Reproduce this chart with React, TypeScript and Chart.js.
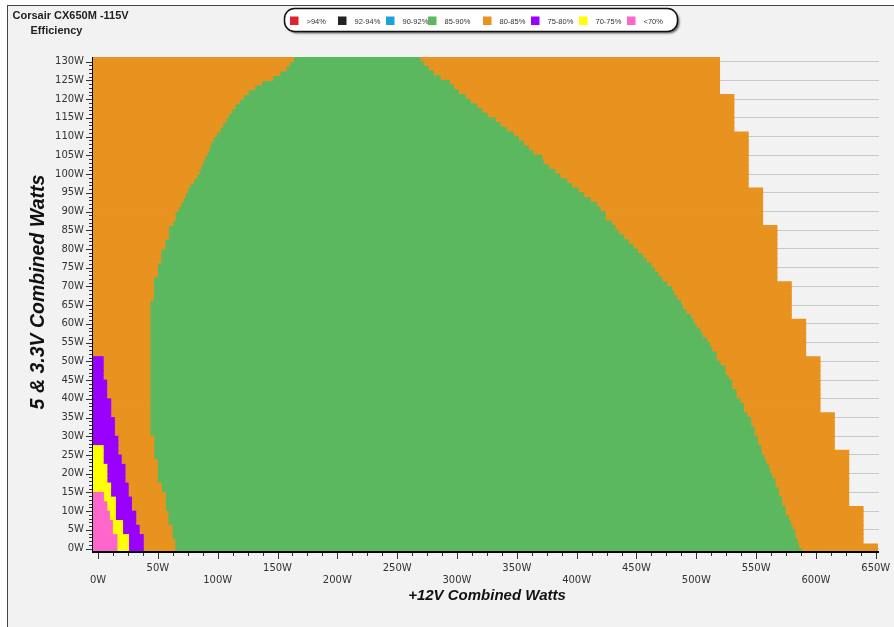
import React, { useEffect, useRef } from 'react';
import { Chart, registerables } from 'chart.js';

Chart.register(...registerables);

const TITLE_LINES = ['Corsair CX650M -115V', 'Efficiency'];
const X_TITLE = '+12V Combined Watts';
const Y_TITLE = '5 & 3.3V Combined Watts';

const LEGEND_LABELS = ['>94%', '92-94%', '90-92%', '85-90%', '80-85%', '75-80%', '70-75%', '<70%'];
const LEGEND_COLORS = ['#dc2430', '#222222', '#1ca3d9', '#5bb85f', '#e8921f', '#9900ff', '#ffff00', '#ff66cc'];

const COLOR_GREEN = '#5bb85f';
const COLOR_ORANGE = '#e8921f';
const COLOR_PURPLE = '#9900ff';
const COLOR_YELLOW = '#ffff00';
const COLOR_PINK = '#ff66cc';

const X_TICKS = [0, 50, 100, 150, 200, 250, 300, 350, 400, 450, 500, 550, 600, 650];
const Y_TICKS = [0, 5, 10, 15, 20, 25, 30, 35, 40, 45, 50, 55, 60, 65, 70, 75, 80, 85, 90, 95, 100, 105, 110, 115, 120, 125, 130];

const X_MIN = -4.2;
const X_MAX = 652.7;
const Y_MIN = -0.9;
const Y_MAX = 131.25;

// rows of 1.25 W of 5V+3.3V load
const ROW_HEIGHT = 1.25;
const ROW_COUNT = 106;
const ROW_CENTERS = Array.from({ length: ROW_COUNT }, (_, i) => (i - 0.5) * ROW_HEIGHT);

// +12V watts where the <70% band ends (rows from the bottom)
const PINK_END = [15.8, 15.8, 15.8, 15.8, 12.0, 12.0, 12.0, 9.5, 9.5, 7.3, 7.3, 4.5, 4.5];
// where the 70-75% band ends
const YELLOW_END = [25.5, 25.5, 25.5, 25.5, 20.5, 20.5, 20.5, 14.5, 14.5, 14.5,
  14.5, 14.5, 10.5, 10.5, 10.5, 7.4, 7.4, 7.4, 7.4, 4.3, 4.3, 4.3, 4.3];
// where the 75-80% band ends
const PURPLE_END = [37.8, 37.8, 37.8, 37.8, 34.4, 34.4, 31.5, 31.5, 31.5, 28.0,
  28.0, 28.0, 25.2, 25.2, 25.2, 22.5, 22.5, 22.5, 22.5, 19.4,
  19.4, 16.6, 16.6, 16.6, 16.6, 13.7, 13.7, 13.7, 13.7, 10.6,
  10.6, 10.6, 10.6, 7.2, 7.2, 7.2, 7.2, 4.3, 4.3, 4.3,
  4.3, 4.3];
// where the 85-90% band starts
const GREEN_START = [64.1, 64.1, 64.1, 61.8, 61.8, 61.8, 58.5, 58.5, 58.5, 56.2,
  56.2, 56.2, 56.2, 52.9, 52.9, 49.6, 49.6, 49.6, 49.6, 49.6,
  46.6, 46.6, 46.6, 46.6, 46.6, 43.4, 43.4, 43.4, 43.4, 43.4,
  43.4, 43.4, 43.4, 43.4, 43.4, 43.4, 43.4, 43.4, 43.4, 43.4,
  43.4, 43.4, 43.4, 43.4, 43.4, 43.4, 43.4, 43.4, 43.4, 43.4,
  43.4, 43.4, 43.4, 43.4, 46.2, 46.2, 46.2, 46.2, 46.2, 49.6,
  49.6, 49.6, 52.4, 52.4, 52.4, 56.0, 56.0, 58.8, 58.8, 58.8,
  62.4, 64.4, 64.4, 67.1, 69.1, 71.3, 73.0, 74.6, 76.9, 79.7,
  82.5, 84.7, 86.0, 87.5, 89.4, 91.4, 93.0, 94.2, 96.4, 99.2,
  102.0, 104.2, 107.0, 108.9, 111.7, 114.5, 118.1, 121.4, 125.6, 131.0,
  136.8, 146.0, 152.0, 157.0, 160.0, 163.3];
// where the 85-90% band ends
const GREEN_END = [588.0, 585.5, 584.5, 582.5, 582.5, 580.0, 578.5, 577.0, 574.2, 574.2,
  571.4, 571.4, 568.6, 568.6, 565.8, 565.8, 563.1, 561.5, 560.2, 558.0,
  556.6, 554.1, 554.1, 551.1, 551.1, 548.3, 548.3, 545.5, 545.5, 542.2,
  539.3, 539.3, 536.6, 533.2, 533.2, 529.6, 529.6, 526.8, 524.0, 524.0,
  519.8, 516.5, 516.5, 512.9, 511.0, 508.7, 505.0, 503.1, 499.8, 497.5,
  495.4, 491.4, 488.5, 487.0, 483.7, 481.0, 479.5, 475.3, 471.1, 468.0,
  465.0, 462.0, 458.0, 455.0, 451.0, 447.0, 443.0, 439.0, 435.0, 432.0,
  429.3, 423.7, 423.7, 419.6, 416.8, 411.2, 405.6, 401.4, 395.9, 391.7,
  386.1, 382.0, 376.4, 372.0, 370.8, 363.8, 359.6, 355.5, 351.3, 347.1,
  341.6, 336.0, 331.8, 325.4, 320.7, 316.5, 311.0, 306.8, 301.2, 297.0,
  293.6, 286.0, 280.3, 276.1, 272.0, 269.1];
// highest +12V load measured in each row
const MAX_LOAD = [651.4, 651.4, 639.4, 639.4, 639.4, 639.4, 639.4, 639.4, 639.4, 639.4,
  627.4, 627.4, 627.4, 627.4, 627.4, 627.4, 627.4, 627.4, 627.4, 627.4,
  627.4, 627.4, 615.4, 615.4, 615.4, 615.4, 615.4, 615.4, 615.4, 615.4,
  603.4, 603.4, 603.4, 603.4, 603.4, 603.4, 603.4, 603.4, 603.4, 603.4,
  603.4, 603.4, 591.4, 591.4, 591.4, 591.4, 591.4, 591.4, 591.4, 591.4,
  579.4, 579.4, 579.4, 579.4, 579.4, 579.4, 579.4, 579.4, 567.4, 567.4,
  567.4, 567.4, 567.4, 567.4, 567.4, 567.4, 567.4, 567.4, 567.4, 567.4,
  555.4, 555.4, 555.4, 555.4, 555.4, 555.4, 555.4, 555.4, 543.4, 543.4,
  543.4, 543.4, 543.4, 543.4, 543.4, 543.4, 543.4, 543.4, 543.4, 543.4,
  531.4, 531.4, 531.4, 531.4, 531.4, 531.4, 531.4, 531.4, 519.4, 519.4,
  519.4, 519.4, 519.4, 519.4, 519.4, 519.4];

type Seg = { x: [number, number]; y: number };

function buildSegments(fn: (i: number) => [number, number] | null): Seg[] {
  const out: Seg[] = [];
  ROW_CENTERS.forEach((y, i) => {
    const s = fn(i);
    if (s && s[1] > s[0]) out.push({ x: s, y });
  });
  return out;
}

const pinkSegs = buildSegments(i => (PINK_END[i] != null ? [X_MIN, PINK_END[i]] : null));
const yellowSegs = buildSegments(i => (YELLOW_END[i] != null ? [PINK_END[i] ?? X_MIN, YELLOW_END[i]] : null));
const purpleSegs = buildSegments(i =>
  PURPLE_END[i] != null ? [YELLOW_END[i] ?? PINK_END[i] ?? X_MIN, PURPLE_END[i]] : null
);
const orangeLowSegs = buildSegments(i => [PURPLE_END[i] ?? YELLOW_END[i] ?? PINK_END[i] ?? X_MIN, GREEN_START[i]]);
const greenSegs = buildSegments(i => [GREEN_START[i], GREEN_END[i]]);
const orangeHighSegs = buildSegments(i => [GREEN_END[i], MAX_LOAD[i]]);

const LEGEND_SLOT_X = [290, 338, 386, 428, 483, 531, 579, 627];

const decorPlugin = {
  id: 'decor',
  afterDraw(chart: any) {
    const { ctx, chartArea: ca, scales } = chart;
    const xs = scales.x;
    const ys = scales.y;
    ctx.save();

    // axis lines
    ctx.strokeStyle = '#000';
    ctx.lineWidth = 1;
    ctx.beginPath();
    ctx.moveTo(ca.left - 0.5, ca.top);
    ctx.lineTo(ca.left - 0.5, ca.bottom + 1);
    ctx.stroke();
    ctx.lineWidth = 2;
    ctx.beginPath();
    ctx.moveTo(ca.left - 1, ca.bottom);
    ctx.lineTo(ca.right, ca.bottom);
    ctx.stroke();

    // x ticks (every 12.5 W)
    ctx.lineWidth = 1;
    ctx.strokeStyle = '#333';
    for (let k = 0; k <= 52; k++) {
      const v = k * 12.5;
      const px = Math.round(xs.getPixelForValue(v)) + 0.5;
      const len = k % 4 === 0 ? 6 : 3;
      ctx.beginPath();
      ctx.moveTo(px, ca.bottom + 1);
      ctx.lineTo(px, ca.bottom + 1 + len);
      ctx.stroke();
    }
    // y ticks (every 1 W)
    for (let v = 0; v <= 130; v++) {
      const py = Math.round(ys.getPixelForValue(v)) + 0.5;
      const len = v % 5 === 0 ? 6 : 3;
      ctx.beginPath();
      ctx.moveTo(ca.left - 1 - len, py);
      ctx.lineTo(ca.left - 1, py);
      ctx.stroke();
    }

    // title
    ctx.fillStyle = '#222';
    ctx.textAlign = 'left';
    ctx.textBaseline = 'alphabetic';
    ctx.font = 'bold 11px "Liberation Sans", Arial, sans-serif';
    ctx.fillText(TITLE_LINES[0], 12.5, 18.5);
    ctx.fillText(TITLE_LINES[1], 30.5, 33.5);

    // axis titles
    ctx.fillStyle = '#111';
    ctx.font = 'bold italic 15px "Liberation Sans", Arial, sans-serif';
    ctx.textAlign = 'center';
    ctx.fillText(X_TITLE, 487, 600);
    ctx.save();
    ctx.translate(43.5, 292);
    ctx.rotate(-Math.PI / 2);
    ctx.font = 'bold italic 19.5px "Liberation Sans", Arial, sans-serif';
    ctx.fillText(Y_TITLE, 0, 0);
    ctx.restore();

    // legend box
    ctx.save();
    ctx.shadowColor = 'rgba(0,0,0,0.55)';
    ctx.shadowOffsetX = 2;
    ctx.shadowOffsetY = 2;
    ctx.shadowBlur = 2;
    ctx.beginPath();
    (ctx as any).roundRect(284.5, 8.5, 393, 23, 10);
    ctx.fillStyle = '#ffffff';
    ctx.fill();
    ctx.restore();
    ctx.beginPath();
    (ctx as any).roundRect(284.5, 8.5, 393, 23, 10);
    ctx.lineWidth = 1.5;
    ctx.strokeStyle = '#111';
    ctx.stroke();

    ctx.font = '7.5px "Liberation Sans", Arial, sans-serif';
    ctx.textAlign = 'left';
    LEGEND_LABELS.forEach((label, i) => {
      const x = LEGEND_SLOT_X[i];
      ctx.fillStyle = LEGEND_COLORS[i];
      ctx.fillRect(x, 16.5, 8.5, 8.5);
      ctx.fillStyle = '#333';
      ctx.fillText(label, x + 16.5, 23.8);
    });

    ctx.restore();
  },
};

export default function App() {
  const ref = useRef<HTMLCanvasElement | null>(null);

  useEffect(() => {
    if (!ref.current) return;
    const mk = (label: string, data: Seg[], color: string) => ({
      label,
      data,
      backgroundColor: color,
      borderWidth: 0,
      grouped: false,
      barPercentage: 1,
      categoryPercentage: 1,
      inflateAmount: 0.5,
    });
    const chart = new Chart(ref.current, {
      type: 'bar',
      data: {
        datasets: [
          mk('<70%', pinkSegs, COLOR_PINK),
          mk('70-75%', yellowSegs, COLOR_YELLOW),
          mk('75-80%', purpleSegs, COLOR_PURPLE),
          mk('80-85%', orangeLowSegs, COLOR_ORANGE),
          mk('85-90%', greenSegs, COLOR_GREEN),
          mk('80-85% ', orangeHighSegs, COLOR_ORANGE),
        ] as any,
      },
      options: {
        indexAxis: 'y',
        responsive: false,
        animation: false,
        devicePixelRatio: 1,
        events: [],
        layout: { padding: { left: 0, right: 15, top: 57, bottom: 0 } },
        plugins: {
          legend: { display: false },
          tooltip: { enabled: false },
          title: { display: false },
        },
        scales: {
          x: {
            type: 'linear',
            min: X_MIN,
            max: X_MAX,
            offset: false,
            grid: { display: false, drawTicks: false },
            border: { display: false },
            afterBuildTicks: (s: any) => {
              s.ticks = X_TICKS.map(v => ({ value: v }));
            },
            afterFit: (s: any) => {
              s.height = 75;
              s.paddingLeft = 0;
              s.paddingRight = 0;
            },
            ticks: {
              autoSkip: false,
              maxRotation: 0,
              minRotation: 0,
              padding: 9.75,
              color: '#333',
              font: { family: '"DejaVu Sans", Verdana, sans-serif', size: 10, lineHeight: 1.25 },
              callback: (v: any, i: number) => (i % 2 === 0 ? ['', `${v}W`] : [`${v}W`, '']),
            },
          },
          y: {
            type: 'linear',
            min: Y_MIN,
            max: Y_MAX,
            offset: false,
            grid: { color: '#c8c8c8', drawTicks: false, offset: false },
            border: { display: false },
            afterBuildTicks: (s: any) => {
              s.ticks = Y_TICKS.map(v => ({ value: v }));
            },
            afterFit: (s: any) => {
              s.width = 93;
              s.paddingTop = 0;
              s.paddingBottom = 0;
            },
            ticks: {
              autoSkip: false,
              padding: 9,
              color: '#333',
              font: { family: '"DejaVu Sans", Verdana, sans-serif', size: 10 },
              callback: (v: any) => `${v}W`,
            },
          },
        },
      } as any,
      plugins: [decorPlugin],
    });
    return () => chart.destroy();
  }, []);

  return (
    <div style={{ position: 'fixed', left: 0, top: 0, width: 894, height: 627, overflow: 'hidden', background: '#ffffff' }}>
      <div
        style={{
          position: 'absolute',
          left: 7,
          top: 5,
          width: 900,
          height: 640,
          border: '1px solid #444',
          background: '#f2f2f2',
        }}
      />
      <canvas ref={ref} width={894} height={627} style={{ position: 'absolute', left: 0, top: 0, width: 894, height: 627 }} />
    </div>
  );
}
